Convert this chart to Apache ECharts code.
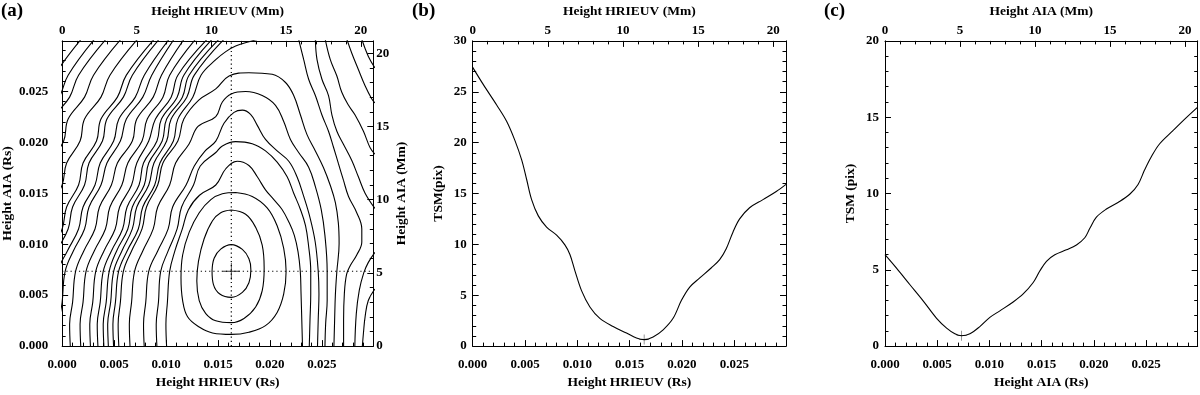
<!DOCTYPE html>
<html>
<head>
<meta charset="utf-8">
<script src="https://cdn.jsdelivr.net/npm/echarts@6/dist/echarts.min.js"></script>
<style>
  html, body { margin: 0; padding: 0; background: #fff; }
  #chart { width: 1200px; height: 395px; }
</style>
</head>
<body>
<div id="chart"></div>
<script>
// ---- axis ranges ----
var RS_MAX = 0.02994;   // solar radii
var MM_MAX = 20.84;     // megametres

// ---- panel (b): TSM along the HRIEUV height (Rs) ----
var bHeightRs = [0, 0.00102, 0.00229, 0.00324, 0.00404, 0.00468, 0.00515, 0.00563, 0.00627, 0.00706,
  0.00802, 0.00881, 0.00929, 0.00977, 0.0104, 0.0112, 0.01215, 0.01342, 0.0147, 0.01565, 0.01638,
  0.01724, 0.0182, 0.01915, 0.01995, 0.02074, 0.0217, 0.02281, 0.0236, 0.02424, 0.02487, 0.02551,
  0.02646, 0.02774, 0.02901, 0.02994];
var bTsm = [27.4, 25.7, 23.7, 22.1, 20.2, 18.3, 16.4, 14.4, 12.8, 11.7,
  10.9, 9.95, 9.0, 7.4, 5.45, 3.85, 2.73, 1.93, 1.28, 0.8, 0.64,
  0.9, 1.6, 2.73, 4.5, 5.8, 6.7, 7.7, 8.5, 9.6, 11.2, 12.5,
  13.6, 14.4, 15.2, 15.9];
var bMin = [0.01638, 0.64];

// ---- panel (c): TSM along the AIA height (Rs) ----
var cHeightRs = [0, 0.00112, 0.00239, 0.00367, 0.00494, 0.0059, 0.00669, 0.00733, 0.00813, 0.00908,
  0.01004, 0.011, 0.01227, 0.01323, 0.01419, 0.01482, 0.01546, 0.01626, 0.01737, 0.01833, 0.01913,
  0.0196, 0.02024, 0.0212, 0.02231, 0.02343, 0.02423, 0.02486, 0.0255, 0.0263, 0.02757, 0.02885, 0.02994];
var cTsm = [5.99, 5.09, 4.02, 2.95, 1.82, 1.18, 0.81, 0.68, 0.81, 1.28,
  1.88, 2.31, 2.89, 3.42, 4.17, 4.92, 5.56, 5.99, 6.31, 6.63, 7.10,
  7.70, 8.45, 8.98, 9.41, 9.95, 10.59, 11.55, 12.41, 13.26, 14.12, 14.97, 15.66];
var cMin = [0.00733, 0.68];

// ---- panel (a): contour lines, [HRIEUV Mm, AIA Mm] ----
var aMinMm = [11.33, 5.11];
var loop1 = [[10.04,5.11],[10.18,6.0],[10.62,6.62],[11.33,6.93],[12.07,6.6],[12.51,5.96],[12.64,5.22],
  [12.51,4.33],[12.07,3.67],[11.33,3.33],[10.56,3.56],[10.13,4.22],[10.04,5.11]];
var loop2 = [[11.33,9.29],[12.29,9.0],[12.96,8.11],[13.4,6.89],[13.53,5.33],[13.4,3.78],[12.96,2.67],
  [12.18,1.89],[11.33,1.6],[10.29,1.73],[9.62,2.22],[9.18,3.11],[9.02,4.44],[9.13,5.78],[9.51,7.33],
  [10.07,8.56],[10.62,9.11],[11.33,9.29]];
var loop3 = [[11.62,10.49],[12.73,10.22],[13.73,9.44],[14.4,8.22],[14.84,6.67],[15.0,5.11],[14.84,3.56],
  [14.4,2.3],[13.62,1.4],[12.51,0.95],[11.33,0.8],[10.07,0.9],[9.18,1.3],[8.4,2.0],[8.07,3.11],
  [7.96,4.67],[8.07,6.22],[8.51,7.78],[9.18,9.11],[9.96,10.0],[10.73,10.4],[11.62,10.49]];
var hill4 = [[7.0,-0.1],[6.95,1.5],[7.05,3],[7.2,5.1],[7.55,6.5],[8.05,8],[8.45,9.3],[9.2,10.3],[10.29,11.0],
  [10.96,12.11],[11.73,12.62],[12.51,12.33],[13.07,11.56],[13.62,10.67],[14.18,10.0],[14.73,9.33],
  [15.2,8.44],[15.55,7.56],[15.8,6.44],[15.95,5.11],[16.0,3.6],[16.05,1.8],[16.1,-0.1]];
var hill5 = [[6.35,-0.1],[6.3,1.5],[6.45,3],[6.6,5.1],[7.1,6.5],[7.7,8],[8.0,9.5],[8.8,11],[9.25,12.3],
  [10.29,13.22],[10.73,13.67],[11.62,13.96],[12.73,13.82],[13.62,13.33],[14.4,12.56],[15.07,11.56],
  [15.51,10.44],[15.96,9.33],[16.3,8.22],[16.5,6.89],[16.65,5.11],[16.65,3.56],[16.6,1.78],[16.55,-0.1]];
var hill6 = [[5.5,-0.1],[5.45,1.5],[5.6,3],[5.8,5.1],[6.4,6.5],[7.1,8],[7.4,9.5],[8.3,11],[8.85,12.3],
  [9.55,13.3],[10.29,14.0],[10.84,15.22],[11.51,15.96],[12.07,16.11],[12.62,15.82],[13.07,15.07],
  [13.62,14.11],[14.4,13.33],[15.18,12.62],[15.73,11.56],[16.18,10.22],[16.6,8.78],[16.95,7.11],
  [17.15,5.11],[17.2,3.56],[17.15,1.78],[17.1,-0.1]];
var hill7 = [[4.55,-0.1],[4.5,1.5],[4.65,3],[4.85,5.1],[5.4,6.5],[6.1,8],[6.4,9.5],[7.2,11],[7.6,12.5],
  [8.5,13.8],[9.1,15.0],[10.29,15.67],[10.73,16.67],[11.33,17.22],[12.29,17.38],[13.4,17.11],
  [14.29,16.44],[14.84,15.33],[15.29,14.11],[15.84,13.22],[16.51,12.22],[16.96,10.89],[17.35,9.33],
  [17.6,7.56],[17.75,5.11],[17.75,3.11],[17.65,1.56],[17.6,-0.1]];
var hill8 = [[3.8,-0.1],[3.75,1.5],[3.9,3],[4.1,5.1],[4.65,6.5],[5.35,8],[5.65,9.5],[6.4,11],[6.75,12.5],
  [7.75,14],[8.15,15.5],[9.15,16.8],[10.29,17.56],[11.18,18.44],[12.51,18.67],[14.07,18.56],[14.96,18.0],
  [15.51,17.11],[15.96,15.78],[16.4,14.44],[16.96,13.33],[17.5,12.2],[17.95,11.0],[18.3,9.8],[18.5,8.4],
  [18.55,7.0],[18.4,5.11],[18.3,3.5],[18.25,1.8],[18.2,-0.1]];
var arc9 = [[3.45,-0.1],[3.4,1.5],[3.57,3],[3.78,5.1],[4.35,6.5],[5.1,8],[5.4,9.5],[6.2,11],[6.55,12.5],
  [7.45,14],[7.75,15.5],[8.75,17],[9.3,18.5],[10.29,19.56],[10.96,20.11],[11.62,20.49],[12.51,20.78],[13.1,20.95]];

// left family: shared AIA heights, one HRIEUV list per line
var leftAiaMm = [-0.1, 1.5, 3, 5.1, 6.5, 8, 9.5, 11, 12.5, 14, 15.5, 17, 18.5, 20.95];
var leftLinesMm = [
  [3.1, 3.05, 3.25, 3.45, 4.0, 4.7, 5.0, 5.8, 6.15, 7.0, 7.3, 8.35, 8.85, 10.84],
  [2.8, 2.75, 2.95, 3.15, 3.65, 4.4, 4.7, 5.5, 5.8, 6.7, 7.0, 8.05, 8.5, 10.5],
  [2.4, 2.35, 2.55, 2.75, 3.3, 4.05, 4.35, 5.15, 5.45, 6.35, 6.65, 7.7, 8.15, 10.04],
  [1.9, 1.85, 2.05, 2.25, 2.8, 3.55, 3.85, 4.65, 5.0, 5.8, 6.25, 7.3, 7.75, 9.71],
  [1.25, 1.2, 1.4, 1.6, 2.15, 2.9, 3.2, 4.0, 4.4, 5.35, 5.7, 6.75, 7.2, 8.93],
  [0.55, 0.5, 0.7, 0.9, 1.45, 2.2, 2.5, 3.3, 3.7, 4.7, 5.0, 6.1, 6.65, 8.16],
  [-0.15, -0.2, 0.0, 0.2, 0.75, 1.5, 1.8, 2.6, 3.0, 3.9, 4.3, 5.4, 6.0, 7.49],
  [-0.8, -0.85, -0.6, -0.3, 0.35, 1.1, 1.4, 2.2, 2.55, 3.45, 3.8, 4.9, 5.5, 7.16],
  [-1.25, -1.3, -1.1, -0.9, -0.35, 0.4, 0.7, 1.5, 1.8, 2.7, 3.0, 4.1, 4.7, 6.49],
  [-1.65, -1.7, -1.5, -1.3, -0.75, 0.0, 0.3, 1.1, 1.4, 2.3, 2.6, 3.7, 4.3, 6.16],
  [-2.75, -2.8, -2.6, -2.4, -1.85, -1.1, -0.8, 0.0, 0.3, 1.2, 1.5, 2.6, 3.2, 5.04],
  [-3.85, -3.9, -3.7, -3.5, -2.95, -2.2, -1.9, -1.1, -0.8, 0.1, 0.4, 1.5, 2.1, 3.93],
  [-4.85, -4.9, -4.7, -4.5, -3.95, -3.2, -2.9, -2.1, -1.8, -0.9, -0.6, 0.5, 1.1, 2.93],
  [-5.55, -5.6, -5.4, -5.2, -4.65, -3.9, -3.6, -2.8, -2.5, -1.6, -1.3, -0.2, 0.4, 2.16],
  [-6.45, -6.5, -6.3, -6.1, -5.55, -4.8, -4.5, -3.7, -3.4, -2.5, -2.2, -1.1, -0.5, 1.27]
];

// right-hand lines
var right1 = [[15.84,20.95],[16.18,19.56],[16.51,18.22],[16.96,17.11],[17.4,15.78],[17.84,14.67],[18.18,13.56],
  [18.51,12.44],[18.84,11.33],[19.18,10.22],[19.73,9.11],[20.07,8.0],[20.07,7.11],[19.73,6.22],[19.3,5.5],
  [19.05,4.89],[18.9,3.56],[18.85,1.78],[18.85,-0.1]];
var right2 = [[16.96,20.95],[17.07,19.56],[17.4,18.22],[17.84,17.11],[18.07,15.78],[18.4,14.67],[18.84,13.78],
  [19.4,12.67],[19.84,11.56],[20.29,10.44],[20.95,9.4]];
var right3 = [[17.62,20.95],[17.96,19.56],[18.4,18.44],[18.73,17.33],[19.18,16.44],[19.62,15.78],[20.18,14.67],
  [20.62,13.56],[20.95,13.1]];
var right4 = [[19.07,20.95],[19.4,20.0],[19.84,18.89],[20.29,17.78],[20.73,16.89],[20.95,16.6]];
var right5 = [[20.07,20.95],[20.51,19.78],[20.95,19.0]];
var right6 = [[20.95,6.4],[20.5,5.7],[20.2,5.0],[19.9,3.8],[19.7,2.2],[19.6,-0.1]];
var right7 = [[20.95,3.9],[20.5,3.1],[20.29,2.0],[20.18,0.89],[20.1,-0.1]];

// ---- build ----
var FONT = '"Liberation Serif", "DejaVu Serif", serif';
var chartDom = document.getElementById('chart');
var myChart = echarts.init(chartDom, null, { renderer: 'canvas' });

var grids = [
  { left: 60.7, top: 38.3, width: 312.6, height: 311.2 },
  { left: 472.7, top: 38.3, width: 313.3, height: 311.2 },
  { left: 885, top: 38.3, width: 312.7, height: 311.2 }
];

function ax(extra) {
  var base = {
    type: 'value',
    nameLocation: 'middle',
    splitLine: { show: false },
    axisLine: { show: true, onZero: false, lineStyle: { color: '#000', width: 1 } },
    axisTick: { show: true, inside: true, length: 6, lineStyle: { color: '#000', width: 1 } },
    minorTick: { show: true, splitNumber: 5, length: 3.5, lineStyle: { color: '#000', width: 1 } },
    axisLabel: { color: '#000', fontFamily: FONT, fontWeight: 'bold', fontSize: 13, showMaxLabel: false },
    nameTextStyle: { color: '#000', fontFamily: FONT, fontWeight: 'bold', fontSize: 13.5 }
  };
  for (var k in extra) {
    if (typeof extra[k] === 'object' && base[k] && !Array.isArray(extra[k])) {
      base[k] = Object.assign({}, base[k], extra[k]);
    } else {
      base[k] = extra[k];
    }
  }
  return base;
}
function rsLabel(v) { return v.toFixed(3); }

var xAxes = [];
var yAxes = [];
var names = [
  ['Height HRIEUV (Rs)', 'Height HRIEUV (Mm)'],
  ['Height HRIEUV (Rs)', 'Height HRIEUV (Mm)'],
  ['Height AIA (Rs)', 'Height AIA (Mm)']
];
for (var g = 0; g < 3; g++) {
  xAxes.push(ax({ gridIndex: g, position: 'bottom', min: 0, max: RS_MAX, interval: 0.005,
    name: names[g][0], nameGap: 28.5, axisLabel: { margin: 12, formatter: rsLabel } }));
  xAxes.push(ax({ gridIndex: g, position: 'top', min: 0, max: MM_MAX, interval: 5,
    name: names[g][1], nameGap: 19, axisLabel: { margin: 4 } }));
}
// panel a
yAxes.push(ax({ gridIndex: 0, position: 'left', min: 0, max: RS_MAX, interval: 0.005,
  name: 'Height AIA (Rs)', nameGap: 44, axisLabel: { margin: 14, formatter: rsLabel } }));
yAxes.push(ax({ gridIndex: 0, position: 'right', min: 0, max: MM_MAX, interval: 5,
  name: 'Height AIA (Mm)', nameGap: 21, nameRotate: 90, axisLabel: { margin: 3 } }));
// panel b
yAxes.push(ax({ gridIndex: 1, position: 'left', min: 0, max: 30, interval: 5,
  name: 'TSM(pix)', nameGap: 27, axisLabel: { margin: 6, showMaxLabel: true } }));
yAxes.push(ax({ gridIndex: 1, position: 'right', min: 0, max: 30, interval: 5, axisLabel: { show: false } }));
// panel c
yAxes.push(ax({ gridIndex: 2, position: 'left', min: 0, max: 20, interval: 5,
  name: 'TSM (pix)', nameGap: 27, axisLabel: { margin: 6, showMaxLabel: true } }));
yAxes.push(ax({ gridIndex: 2, position: 'right', min: 0, max: 20, interval: 5, axisLabel: { show: false } }));

function contour(points) {
  return {
    type: 'line', xAxisIndex: 1, yAxisIndex: 1, data: points,
    smooth: 0.4, showSymbol: false, symbol: 'none', clip: true, silent: true,
    lineStyle: { color: '#000', width: 1.1 }
  };
}
function zip(xs, ys) {
  var out = [];
  for (var i = 0; i < xs.length; i++) out.push([xs[i], ys[i]]);
  return out;
}
var PLUS = 'path://M9.5,0h1v9.5h9.5v1h-9.5v9.5h-1v-9.5h-9.5v-1h9.5z';

var series = [];
[loop1, loop2, loop3, hill4, hill5, hill6, hill7, hill8, arc9,
 right1, right2, right3, right4, right5, right6, right7].forEach(function (c) {
  series.push(contour(c));
});
leftLinesMm.forEach(function (xs) { series.push(contour(zip(xs, leftAiaMm))); });

// dotted cross-hair through the minimum
series.push({ type: 'line', xAxisIndex: 1, yAxisIndex: 1, silent: true, showSymbol: false, symbol: 'none',
  data: [[aMinMm[0], 0], [aMinMm[0], MM_MAX]], lineStyle: { color: '#000', width: 1.2, type: [1.2, 3] } });
series.push({ type: 'line', xAxisIndex: 1, yAxisIndex: 1, silent: true, showSymbol: false, symbol: 'none',
  data: [[0, aMinMm[1]], [MM_MAX, aMinMm[1]]], lineStyle: { color: '#000', width: 1.2, type: [1.2, 3] } });
series.push({ type: 'scatter', xAxisIndex: 1, yAxisIndex: 1, silent: true, data: [aMinMm],
  symbol: PLUS, symbolSize: 17, itemStyle: { color: '#000' } });

// panel b
series.push({ type: 'line', xAxisIndex: 2, yAxisIndex: 2, data: zip(bHeightRs, bTsm), smooth: 0.35,
  showSymbol: false, symbol: 'none', silent: true, lineStyle: { color: '#000', width: 1.1 } });
series.push({ type: 'scatter', xAxisIndex: 2, yAxisIndex: 2, silent: true, data: [bMin],
  symbol: PLUS, symbolSize: 10, itemStyle: { color: '#000' } });
// panel c
series.push({ type: 'line', xAxisIndex: 4, yAxisIndex: 4, data: zip(cHeightRs, cTsm), smooth: 0.35,
  showSymbol: false, symbol: 'none', silent: true, lineStyle: { color: '#000', width: 1.1 } });
series.push({ type: 'scatter', xAxisIndex: 4, yAxisIndex: 4, silent: true, data: [cMin],
  symbol: PLUS, symbolSize: 10, itemStyle: { color: '#000' } });

var option = {
  backgroundColor: '#fff',
  animation: false,
  grid: grids,
  xAxis: xAxes,
  yAxis: yAxes,
  graphic: [
    { type: 'text', left: 1, top: 2, style: { text: '(a)', fill: '#000', font: 'bold 19px "Liberation Serif", serif' } },
    { type: 'text', left: 412, top: 2, style: { text: '(b)', fill: '#000', font: 'bold 19px "Liberation Serif", serif' } },
    { type: 'text', left: 824, top: 2, style: { text: '(c)', fill: '#000', font: 'bold 19px "Liberation Serif", serif' } }
  ],
  series: series
};
option && myChart.setOption(option);
</script>
</body>
</html>
